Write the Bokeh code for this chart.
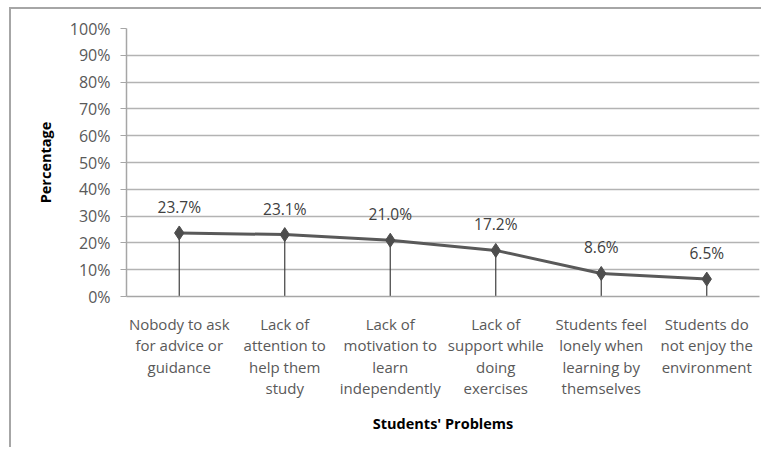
from bokeh.plotting import figure
from bokeh.models import FixedTicker, Range1d, ColumnDataSource
from bokeh.core.properties import value
from bokeh.embed import file_html
from bokeh.resources import INLINE

categories = [
    "Nobody to ask\nfor advice or\nguidance",
    "Lack of\nattention to\nhelp them\nstudy",
    "Lack of\nmotivation to\nlearn\nindependently",
    "Lack of\nsupport while\ndoing\nexercises",
    "Students feel\nlonely when\nlearning by\nthemselves",
    "Students do\nnot enjoy the\nenvironment",
]
percentages = [23.7, 23.1, 21.0, 17.2, 8.6, 6.5]
y_ticks = [0, 10, 20, 30, 40, 50, 60, 70, 80, 90, 100]

FONT = "Open Sans"
xs = [i + 0.5 for i in range(len(categories))]
src = ColumnDataSource(dict(
    x=xs, y=percentages, y0=[0] * len(xs),
    lab=[f"{v:.1f}%" for v in percentages],
))

p = figure(width=752, height=440, output_backend="svg", toolbar_location=None,
           x_range=Range1d(0, len(categories)), y_range=Range1d(0, 100),
           min_border_left=115, min_border_right=4, min_border_top=19,
           min_border_bottom=153)
p.styles = {"border-top": "2px solid #a6a6a6", "border-left": "2px solid #a6a6a6",
            "box-sizing": "border-box", "margin-left": "9px", "margin-top": "7px"}
p.outline_line_color = None
p.background_fill_color = "white"
p.border_fill_color = "white"

# axes
p.yaxis.ticker = FixedTicker(ticks=y_ticks)
p.yaxis.major_label_overrides = {t: f"{t}%" for t in y_ticks}
p.yaxis.axis_line_color = "#a6a6a6"
p.yaxis.axis_line_width = 1.5
p.yaxis.major_tick_line_color = "#a6a6a6"
p.yaxis.major_tick_out = 6
p.yaxis.major_tick_in = 0
p.yaxis.minor_tick_line_color = None
p.yaxis.major_label_text_font = FONT
p.yaxis.major_label_text_font_size = "16px"
p.yaxis.major_label_text_color = "#595959"
p.yaxis.major_label_standoff = 10
p.yaxis.axis_label = "Percentage"
p.yaxis.axis_label_text_font = FONT
p.yaxis.axis_label_text_font_style = "bold"
p.yaxis.axis_label_text_font_size = "14.5px"
p.yaxis.axis_label_text_color = "#000000"
p.yaxis.axis_label_standoff = 12

p.xaxis.ticker = FixedTicker(ticks=xs)
p.xaxis.major_label_overrides = {x: c for x, c in zip(xs, categories)}
p.xaxis.axis_line_color = "#a6a6a6"
p.xaxis.axis_line_width = 1.5
p.xaxis.major_tick_line_color = None
p.xaxis.minor_tick_line_color = None
p.xaxis.major_label_text_font = FONT
p.xaxis.major_label_text_font_size = "15px"
p.xaxis.major_label_text_color = "#595959"
p.xaxis.major_label_text_line_height = 1.075
p.xaxis.major_label_standoff = 11
p.xaxis.axis_label = "Students' Problems"
p.xaxis.axis_label_text_font = FONT
p.xaxis.axis_label_text_font_style = "bold"
p.xaxis.axis_label_text_font_size = "14.5px"
p.xaxis.axis_label_text_color = "#000000"
p.xaxis.axis_label_standoff = 13

p.xgrid.grid_line_color = None
p.ygrid.grid_line_color = "#b3b3b3"
p.ygrid.grid_line_width = 1.5

# drop lines
p.segment(x0="x", y0="y0", x1="x", y1="y", source=src, line_color="#3f3f3f", line_width=1.2)
# line + markers
p.line(x="x", y="y", source=src, line_color="#595959", line_width=3)
p.scatter(x="x", y="y", source=src, marker="diamond", size=14,
          fill_color="#4d4d4d", line_color="#4d4d4d")
# data labels
p.text(x="x", y="y", text="lab", source=src, text_align="center", text_baseline="bottom",
       y_offset=-15, text_font=value(FONT), text_font_size="15.5px", text_color="#404040")

open("out.html", "w").write(file_html(p, INLINE))
